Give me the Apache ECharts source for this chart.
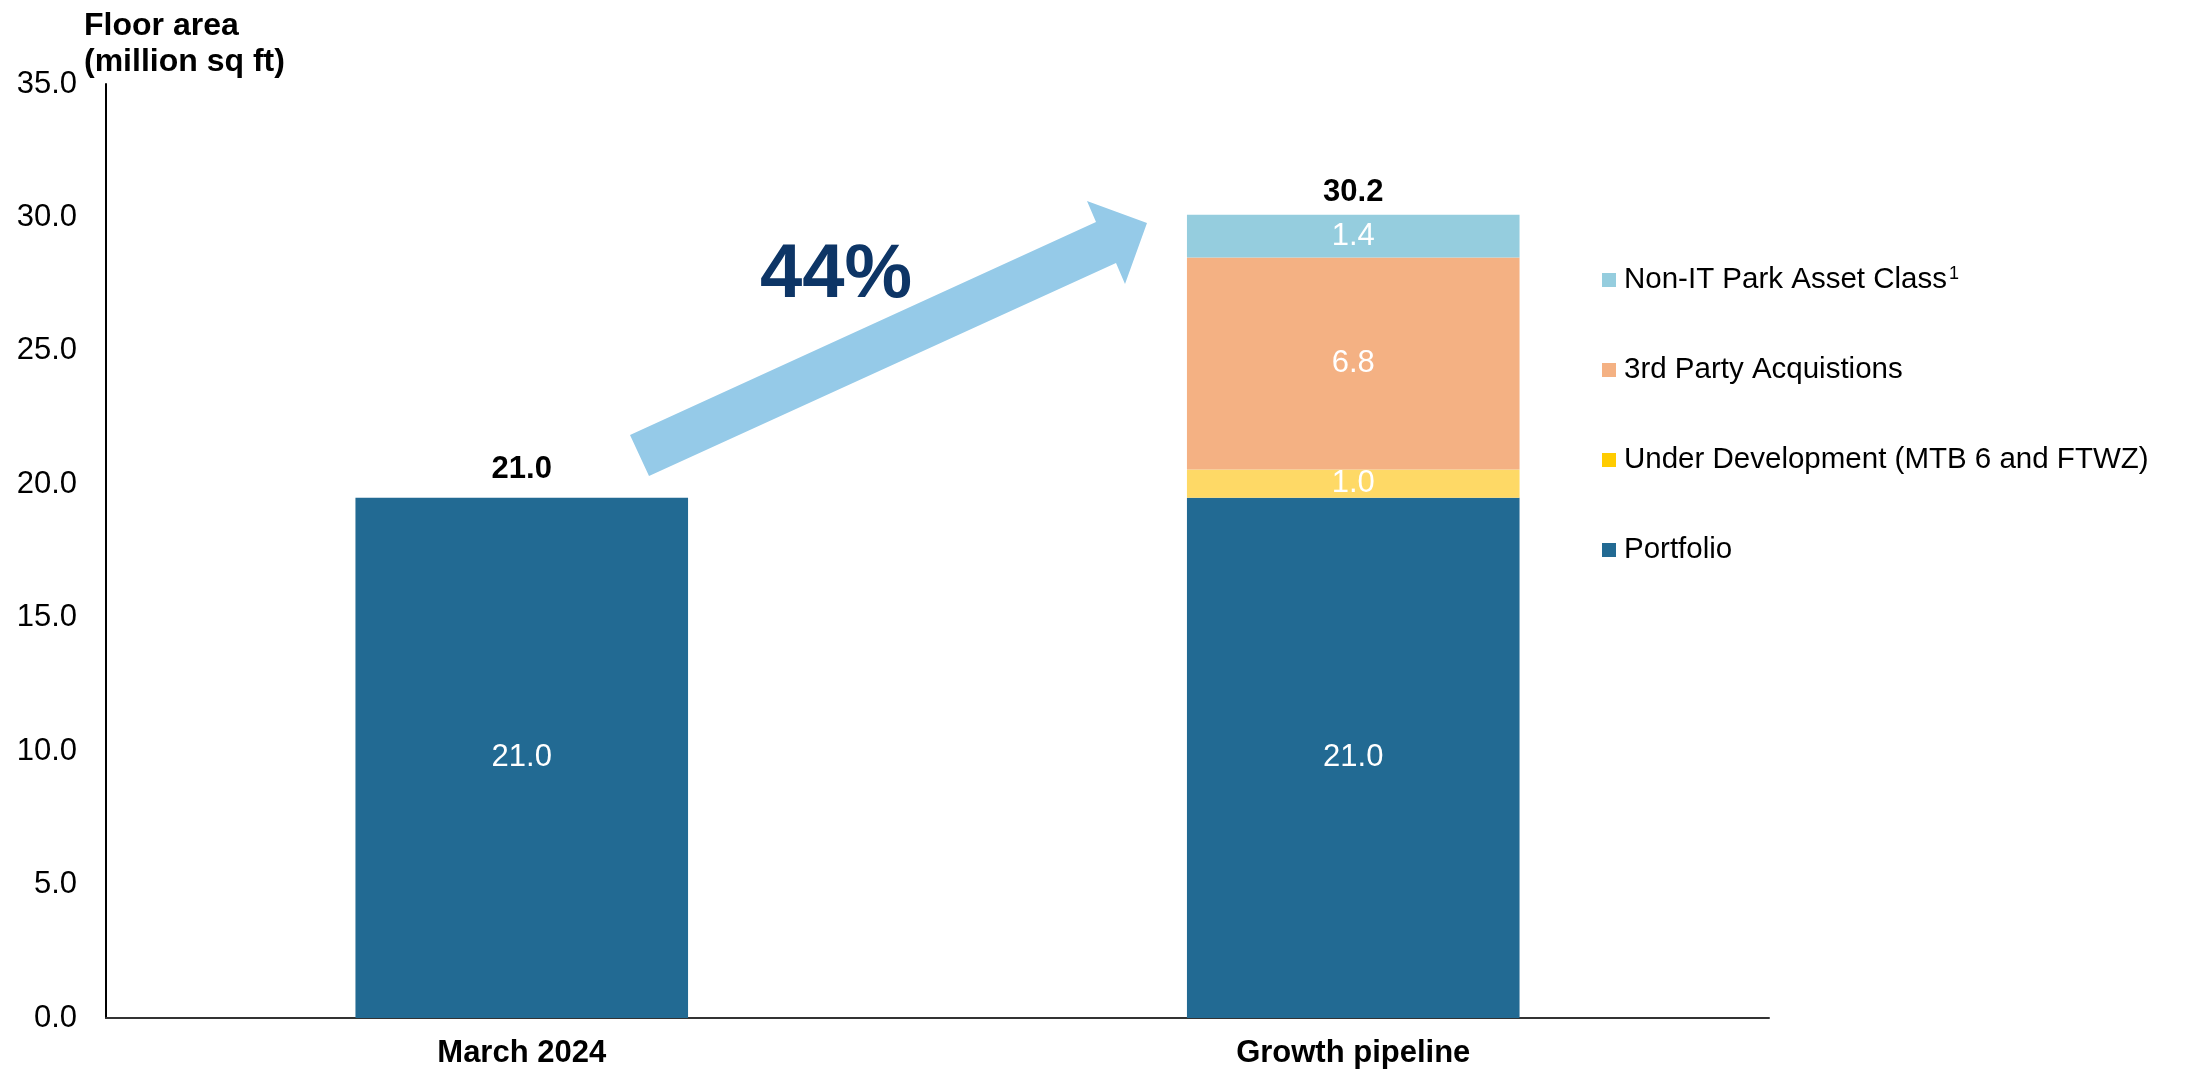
<!DOCTYPE html>
<html>
<head>
<meta charset="utf-8">
<script src="https://cdn.jsdelivr.net/npm/echarts@6/dist/echarts.min.js"></script>
<style>
  html, body { margin: 0; padding: 0; background: #fff; }
  #chart { width: 2210px; height: 1076px; }
</style>
</head>
<body>
<div id="chart"></div>
<script>
// categories + series values (bar heights as drawn)
const categories = ['March 2024', 'Growth pipeline']
const portfolio = [19.5, 19.5]
const underDev = [null, 1.05]
const thirdParty = [null, 7.95]
const nonIT = [null, 1.6]
const totalBase = [0, 0]

// printed labels
const portfolioLabels = ['21.0', '21.0']
const underDevLabels = ['', '1.0']
const thirdPartyLabels = ['', '6.8']
const nonITLabels = ['', '1.4']
const totalLabels = ['21.0', '30.2']

const yTicks = [0, 5, 10, 15, 20, 25, 30, 35]

const FONT = '"Liberation Sans", Arial, sans-serif'

const names = {
  portfolio: 'Portfolio',
  underDev: 'Under Development (MTB 6 and FTWZ)',
  thirdParty: '3rd Party Acquistions',
  nonIT: 'Non-IT Park Asset Class'
}

const chart = echarts.init(document.getElementById('chart'))

function innerLabel(texts) {
  return {
    show: true,
    position: 'inside',
    color: '#fff',
    fontSize: 31,
    fontFamily: FONT,
    formatter: p => texts[p.dataIndex]
  }
}

function barSeries(name, data, color, texts) {
  return {
    name: name,
    type: 'bar',
    stack: 'area',
    barCategoryGap: '60%',
    itemStyle: { color: color },
    label: innerLabel(texts),
    data: data
  }
}

chart.setOption({
  animation: false,
  grid: { left: 106, right: 441, top: 84, bottom: 58 },
  title: {
    text: 'Floor area\n(million sq ft)',
    left: 79,
    top: 3,
    textStyle: {
      fontFamily: FONT,
      fontWeight: 'bold',
      fontSize: 32,
      lineHeight: 36,
      color: '#000'
    }
  },
  legend: {
    orient: 'vertical',
    left: 1597,
    top: 260,
    itemWidth: 14,
    itemHeight: 14,
    itemGap: 60,
    icon: 'rect',
    data: [
      { name: names.nonIT },
      { name: names.thirdParty },
      { name: names.underDev, itemStyle: { color: '#FFCC00' } },
      { name: names.portfolio }
    ],
    formatter: name => name === names.nonIT ? '{a|' + name + '}{sup|1}' : '{a|' + name + '}',
    textStyle: {
      fontFamily: FONT,
      fontSize: 29.5,
      color: '#000',
      padding: [0, 0, 0, 3],
      rich: {
        a: { fontFamily: FONT, fontSize: 29.5, lineHeight: 30, color: '#000' },
        sup: { fontFamily: FONT, fontSize: 18, lineHeight: 30, verticalAlign: 'top', color: '#000', padding: [0, 0, 12, 2] }
      }
    }
  },
  xAxis: {
    type: 'category',
    data: categories,
    axisLine: { lineStyle: { color: '#333', width: 2 } },
    axisTick: { show: false },
    axisLabel: {
      margin: 20,
      fontFamily: FONT,
      fontWeight: 'bold',
      fontSize: 31,
      color: '#000'
    }
  },
  yAxis: {
    type: 'value',
    min: yTicks[0],
    max: yTicks[yTicks.length - 1],
    interval: 5,
    splitLine: { show: false },
    axisTick: { show: false },
    axisLine: { show: true, lineStyle: { color: '#000', width: 2 } },
    axisLabel: {
      margin: 29,
      fontFamily: FONT,
      fontSize: 31,
      color: '#000',
      formatter: v => v.toFixed(1)
    }
  },
  series: [
    barSeries(names.portfolio, portfolio, '#226A93', portfolioLabels),
    barSeries(names.underDev, underDev, '#FED966', underDevLabels),
    barSeries(names.thirdParty, thirdParty, '#F4B183', thirdPartyLabels),
    barSeries(names.nonIT, nonIT, '#95CDDE', nonITLabels),
    {
      name: 'Total',
      type: 'bar',
      stack: 'area',
      barCategoryGap: '60%',
      itemStyle: { color: 'transparent' },
      label: {
        show: true,
        position: 'top',
        fontFamily: FONT,
        fontWeight: 'bold',
        fontSize: 31,
        color: '#000',
        formatter: p => totalLabels[p.dataIndex]
      },
      data: totalBase.map((v, i) => ({ value: v, label: { distance: i === 0 ? 13 : 7 } }))
    }
  ],
  graphic: [
    {
      // growth arrow
      type: 'polygon',
      shape: {
        points: [[649, 476], [630, 435], [1096, 222], [1087, 201], [1147, 223], [1125, 284], [1116, 263]]
      },
      style: { fill: '#95CAE8' },
      z: 10
    },
    {
      type: 'text',
      left: 760,
      top: 238,
      style: {
        text: '44%',
        fontFamily: FONT,
        fontWeight: 'bold',
        fontSize: 76,
        fill: '#0D3566'
      },
      z: 11
    }
  ]
})
</script>
</body>
</html>
